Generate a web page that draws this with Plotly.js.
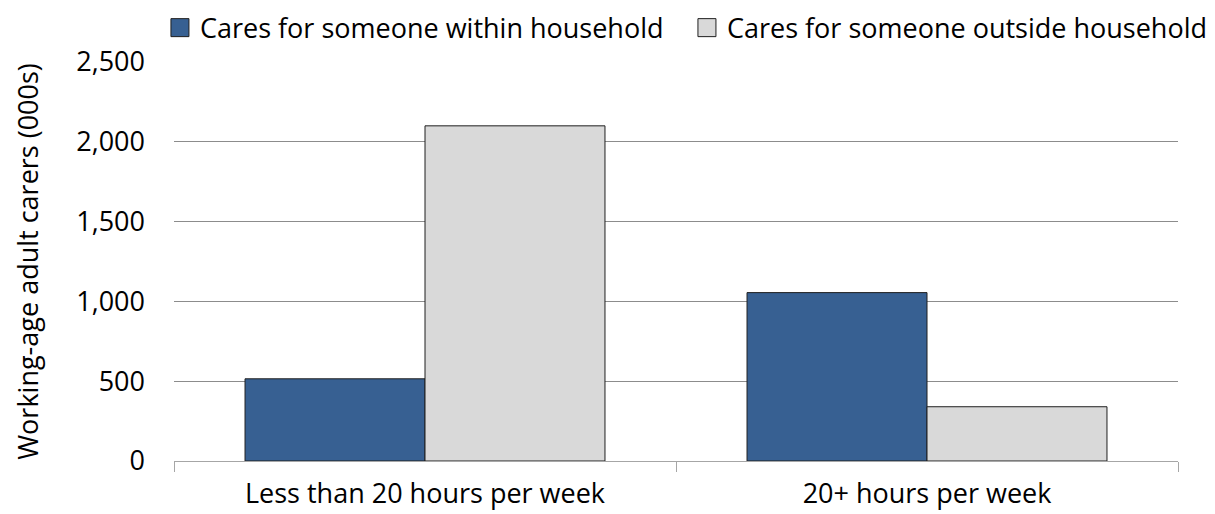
<!DOCTYPE html>
<html>
<head>
<meta charset="utf-8">
<script src="https://cdn.plot.ly/plotly-3.0.1.min.js"></script>
<style>html,body{margin:0;padding:0;background:#fff;}#chart{width:1215px;height:514px;}</style>
</head>
<body>
<div id="chart"></div>
<script>
const categories = ["Less than 20 hours per week", "20+ hours per week"];
const seriesNames = ["Cares for someone within household", "Cares for someone outside household"];
const withinHousehold = [515, 1055];
const outsideHousehold = [2100, 340];
const yTickVals = [0, 500, 1000, 1500, 2000, 2500];
const yTickText = ["0", "500", "1,000", "1,500", "2,000", "2,500"];

const font = "'Open Sans', 'Noto Sans', sans-serif";
const traces = [
  {type: "bar", name: seriesNames[0], x: categories, y: withinHousehold,
   marker: {color: "#376092", line: {color: "#1f1f1f", width: 1}}},
  {type: "bar", name: seriesNames[1], x: categories, y: outsideHousehold,
   marker: {color: "#d9d9d9", line: {color: "#1f1f1f", width: 1}}}
];
const layout = {
  width: 1215, height: 514,
  margin: {l: 174, r: 37, t: 62, b: 53, autoexpand: false},
  paper_bgcolor: "#fff", plot_bgcolor: "#fff",
  font: {family: font, size: 27, color: "#000"},
  barmode: "group", bargap: 0.283, bargroupgap: 0,
  showlegend: true,
  legend: {orientation: "h", x: -0.014, xanchor: "left", y: 1.085, yanchor: "middle",
           font: {family: font, size: 27, color: "#000"}, itemwidth: 30, tracegroupgap: 0,
           entrywidth: 482, entrywidthmode: "pixels"},
  xaxis: {type: "category", showgrid: false, showline: true, linecolor: "#a6a6a6", linewidth: 1,
          ticks: "outside", tickson: "boundaries", ticklen: 10, tickcolor: "#a6a6a6",
          ticklabelstandoff: 9,
          tickfont: {family: font, size: 27, color: "#000"}, fixedrange: true},
  yaxis: {range: [0, 2500], tickvals: yTickVals, ticktext: yTickText,
          showgrid: true, gridcolor: "#8c8c8c", gridwidth: 1, zeroline: false,
          showline: false, ticks: "", ticklen: 0, ticklabelstandoff: 28,
          tickfont: {family: font, size: 27, color: "#000"},
          title: {text: "Working-age adult carers (000s)", font: {family: font, size: 27, color: "#000"}, standoff: 29},
          fixedrange: true}
};
Plotly.newPlot("chart", traces, layout, {displayModeBar: false, staticPlot: true}).then(function(gd){
  gd.querySelectorAll(".legendpoints path").forEach(function(p){
    p.setAttribute("d", "M9,9H-9V-9H9Z");
  });
});
</script>
</body>
</html>
